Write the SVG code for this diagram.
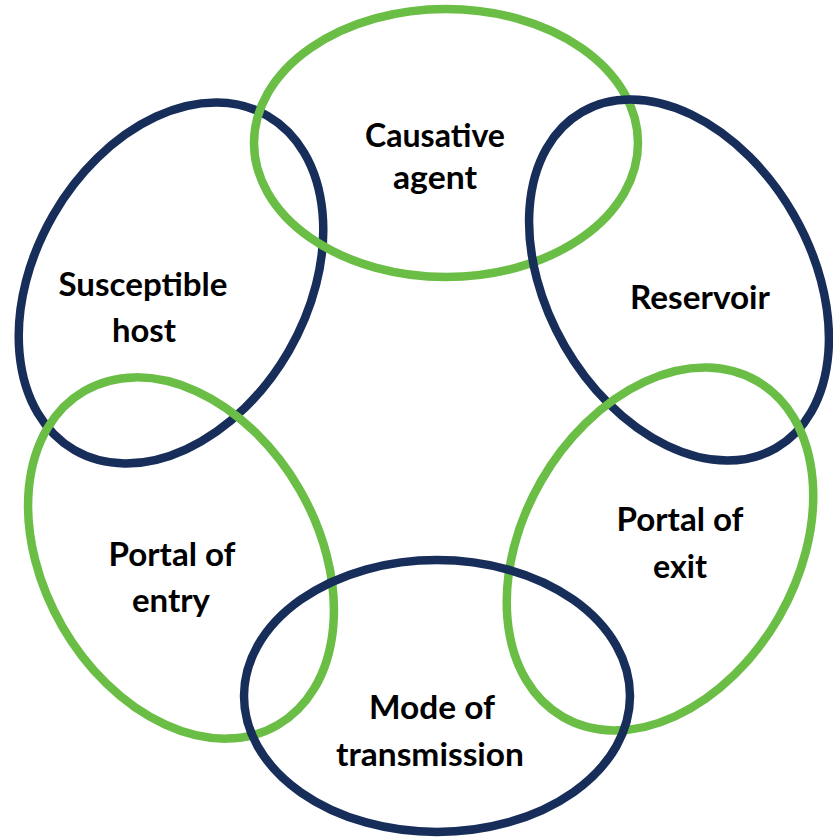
<svg xmlns="http://www.w3.org/2000/svg" width="833" height="837" viewBox="0 0 833 837">
  <style>
    .ring { fill: none; stroke-width: 8.5; }
    .green { stroke: #6abd45; }
    .navy { stroke: #172d5a; }
    .label { font-family: Lato, "Open Sans", "Liberation Sans", sans-serif; font-weight: 700; font-size: 33px; fill: #000000; text-anchor: middle; }
  </style>
  <rect width="833" height="837" fill="#ffffff"/>

  <!-- chain of infection: six identical ellipses placed round a ring -->
  <g id="susceptible-host">
    <ellipse class="ring navy" cx="0" cy="0" rx="193" ry="136" transform="translate(171 283) rotate(120)"/>
    <text class="label" x="143" y="296" textLength="169" lengthAdjust="spacingAndGlyphs">Susceptible</text>
    <text class="label" x="144" y="342" textLength="64" lengthAdjust="spacingAndGlyphs">host</text>
  </g>

  <g id="portal-of-entry">
    <ellipse class="ring green" cx="0" cy="0" rx="193" ry="137" transform="translate(181 558) rotate(60)"/>
    <text class="label" x="172" y="566" textLength="127" lengthAdjust="spacingAndGlyphs">Portal of</text>
    <text class="label" x="171" y="612" textLength="78" lengthAdjust="spacingAndGlyphs">entry</text>
  </g>

  <g id="causative-agent">
    <ellipse class="ring green" cx="446" cy="143" rx="192" ry="134"/>
    <text class="label" x="435" y="147" textLength="140" lengthAdjust="spacingAndGlyphs">Causative</text>
    <text class="label" x="435" y="189" textLength="84" lengthAdjust="spacingAndGlyphs">agent</text>
  </g>

  <g id="reservoir">
    <ellipse class="ring navy" cx="0" cy="0" rx="194" ry="132" transform="translate(679 280) rotate(60)"/>
    <text class="label" x="700" y="309" textLength="140" lengthAdjust="spacingAndGlyphs">Reservoir</text>
  </g>

  <g id="portal-of-exit">
    <ellipse class="ring green" cx="0" cy="0" rx="194" ry="137" transform="translate(660 549) rotate(120)"/>
    <text class="label" x="680" y="531" textLength="127" lengthAdjust="spacingAndGlyphs">Portal of</text>
    <text class="label" x="680" y="578" textLength="54" lengthAdjust="spacingAndGlyphs">exit</text>
  </g>

  <g id="mode-of-transmission">
    <ellipse class="ring navy" cx="437" cy="696" rx="193" ry="136"/>
    <text class="label" x="432" y="719" textLength="126" lengthAdjust="spacingAndGlyphs">Mode of</text>
    <text class="label" x="430" y="766" textLength="188" lengthAdjust="spacingAndGlyphs">transmission</text>
  </g>
</svg>
